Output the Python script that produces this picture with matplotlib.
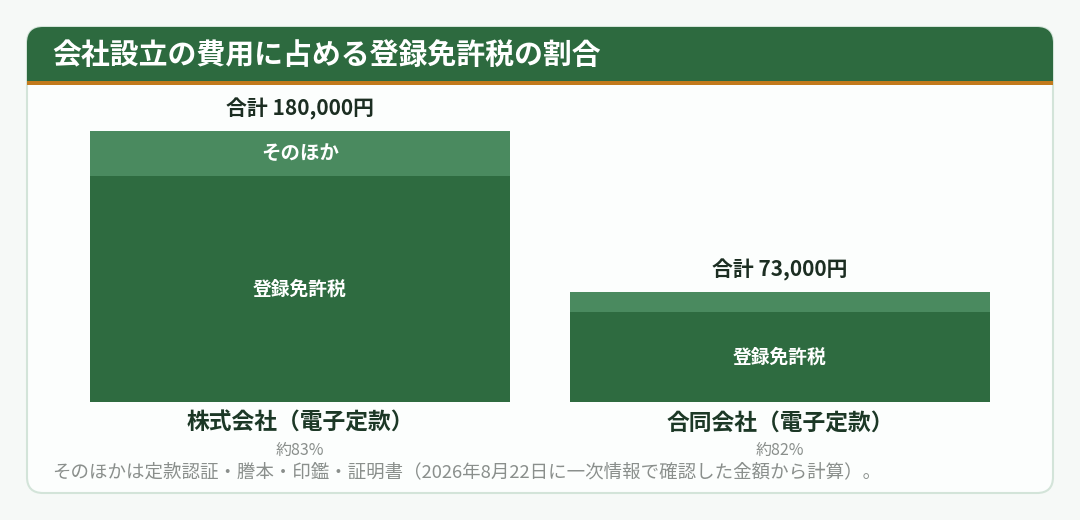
import matplotlib
matplotlib.use("Agg")
import matplotlib.pyplot as plt
from matplotlib.patches import FancyBboxPatch, Rectangle

plt.rcParams['font.family'] = ['Noto Sans CJK JP', 'DejaVu Sans']

# data (yen)
companies = ['株式会社（電子定款）', '合同会社（電子定款）']
tax = [150000, 60000]
other = [30000, 13000]
totals = [180000, 73000]
share_labels = ['約83%', '約82%']

title = '会社設立の費用に占める登録免許税の割合'
note = 'そのほかは定款認証・謄本・印鑑・証明書（2026年8月22日に一次情報で確認した金額から計算）。'

W, H = 1080, 520
fig = plt.figure(figsize=(W / 100, H / 100), dpi=100)
fig.patch.set_facecolor('#f6f9f7')

# background card in pixel coords
bg = fig.add_axes([0, 0, 1, 1])
bg.set_xlim(0, W)
bg.set_ylim(H, 0)
bg.axis('off')
bg.add_patch(FancyBboxPatch((27, 27), 1026, 466, boxstyle='round,pad=0,rounding_size=16',
                            fc='#fcfefd', ec='#d3e4d9', lw=1.5))
bg.add_patch(FancyBboxPatch((27, 27), 1026, 58, boxstyle='round,pad=0,rounding_size=16',
                            fc='#2d6a3f', ec='none'))
bg.add_patch(Rectangle((27, 60), 1026, 22, fc='#2d6a3f', ec='none'))
bg.add_patch(Rectangle((27, 81), 1026, 4, fc='#c27a1c', ec='none'))
bg.text(52, 55, title, color='white', fontsize=20.8, fontweight='bold', va='center', ha='left')
bg.text(52, 472, note, color='#8a8f8c', fontsize=13.3, va='center', ha='left')

# bars
ax = fig.add_axes([60 / W, 1 - 402 / H, 960 / W, 271 / H])
ax.set_xlim(0, 2)
ax.set_ylim(0, max(totals))
ax.axis('off')
x = [0.5, 1.5]
ax.bar(x, tax, width=0.875, color='#2e6b40')
ax.bar(x, other, bottom=tax, width=0.875, color='#4a8a5f')

for i in range(len(companies)):
    ax.text(x[i], tax[i] / 2, '登録免許税', color='white', fontsize=13.5,
            fontweight='bold', ha='center', va='center')
    if other[i] > 20000:
        ax.text(x[i], tax[i] + other[i] / 2, 'そのほか', color='white', fontsize=14,
                fontweight='bold', ha='center', va='center')
    ax.annotate(f'合計 {totals[i]:,}円', (x[i], totals[i]), xytext=(0, 16),
                textcoords='offset points', ha='center', va='center',
                fontsize=15, fontweight='bold', color='#1c2e22', annotation_clip=False)
    ax.annotate(companies[i], (x[i], 0), xytext=(0, -15), textcoords='offset points',
                ha='center', va='center', fontsize=16.4, fontweight='bold',
                color='#1c3826', annotation_clip=False)
    ax.annotate(share_labels[i], (x[i], 0), xytext=(0, -35), textcoords='offset points',
                ha='center', va='center', fontsize=11.5, color='#8a8f8c',
                annotation_clip=False)

fig.savefig('out.png', dpi=100, facecolor=fig.get_facecolor())
